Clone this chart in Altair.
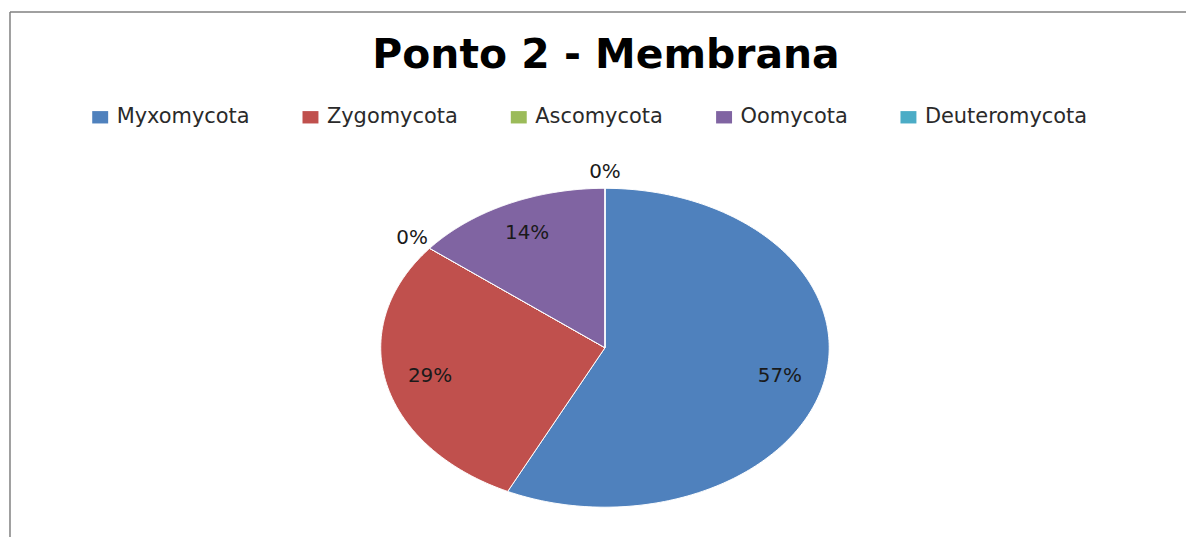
import altair as alt
import pandas as pd

# ---- data ----
categories = ["Myxomycota", "Zygomycota", "Ascomycota", "Oomycota", "Deuteromycota"]
counts = [4, 2, 0, 1, 0]
colors = ["#4F81BD", "#C0504D", "#9BBB59", "#8064A2", "#4BACC6"]
title_text = "Ponto 2 - Membrana"

df = pd.DataFrame({"cat": categories, "value": counts, "idx": list(range(len(categories)))})

N = 200
W, H = 1180, 527
x_scale = alt.Scale(domain=[-2.6533, 2.5911], nice=False, zero=False)
y_scale = alt.Scale(domain=[-1.1875, 2.10625], nice=False, zero=False)
fill_scale = alt.Scale(domain=categories, range=colors)

base = (
    alt.Chart(df)
    .transform_joinaggregate(total="sum(value)")
    .transform_window(cum="sum(value)", sort=[alt.SortField("idx")])
    .transform_calculate(start="(datum.cum - datum.value) / datum.total")
    .transform_calculate(end="datum.cum / datum.total")
)

slices = (
    base.transform_calculate(k=f"sequence(0, {N + 3})")
    .transform_flatten(["k"])
    .transform_calculate(edge=f"datum.k > 0 && datum.k < {N + 2}")
    .transform_calculate(ang=f"2*PI*(datum.start + (datum.end - datum.start) * (datum.k - 1) / {N})")
    .transform_calculate(px="datum.edge ? sin(datum.ang) : 0")
    .transform_calculate(py="datum.edge ? cos(datum.ang) : 0")
    .mark_line(stroke="white", strokeWidth=1, strokeJoin="round")
    .encode(
        x=alt.X("px:Q", scale=x_scale, axis=None),
        y=alt.Y("py:Q", scale=y_scale, axis=None),
        order=alt.Order("k:Q"),
        detail="cat:N",
        fill=alt.Fill(
            "cat:N",
            scale=fill_scale,
            sort=categories,
            legend=alt.Legend(
                title=None,
                orient="none",
                legendX=80,
                legendY=95,
                direction="horizontal",
                columns=5,
                symbolType="M-0.8,-0.62H0.8V0.62H-0.8Z",
                symbolSize=400,
                symbolStrokeWidth=0,
                labelFont="DejaVu Sans",
                labelFontSize=21,
                labelColor="#2a2a2a",
                labelOffset=6,
                labelLimit=400,
                columnPadding=50,
                padding=0,
            ),
        ),
    )
)

labels = (
    base.transform_calculate(mid="PI*(datum.start + datum.end)")
    .transform_calculate(r="datum.value == 0 ? 1.1 : 0.8")
    .transform_calculate(pct="format(datum.value / datum.total, '.0%')")
    .transform_calculate(lx="datum.r * sin(datum.mid)")
    .transform_calculate(ly="datum.r * cos(datum.mid)")
    .mark_text(font="DejaVu Sans", fontSize=20, color="#1a1a1a")
    .encode(
        x=alt.X("lx:Q", scale=x_scale, axis=None),
        y=alt.Y("ly:Q", scale=y_scale, axis=None),
        text="pct:N",
    )
)

frame_df = pd.DataFrame({"a": [0]})
border_left = alt.Chart(frame_df).mark_rule(color="#808080", strokeWidth=1.5).encode(
    x=alt.value(0), y=alt.value(0), y2=alt.value(H)
)
border_top = alt.Chart(frame_df).mark_rule(color="#808080", strokeWidth=1.5).encode(
    y=alt.value(0), x=alt.value(0), x2=alt.value(W)
)

chart = (
    alt.layer(slices, labels, border_left, border_top)
    .properties(
        width=W,
        height=H,
        padding={"left": 1, "top": 2, "right": 0, "bottom": 0},
        title=alt.Title(
            title_text,
            font="DejaVu Sans",
            fontSize=41,
            fontWeight="bold",
            color="black",
            anchor="middle",
            offset=-66,
            dx=8,
        ),
    )
    .configure_view(stroke="transparent")
)

chart.save("out.html", embed_options={"renderer": "svg", "actions": False})
